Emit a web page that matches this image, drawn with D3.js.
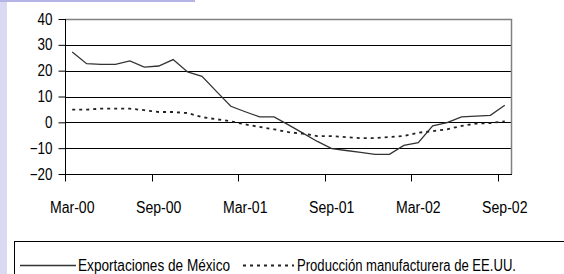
<!DOCTYPE html>
<html lang="es">
<head>
<meta charset="UTF-8">
<title>Exportaciones de México vs producción manufacturera de EE.UU.</title>
<script src="https://d3js.org/d3.v7.min.js"></script>
<style>
    body { margin: 0; background: #fff; }
    svg { display: block; font-family: "Liberation Sans", Arial, sans-serif; }
    .tick-label { font-size: 16px; fill: #000; }
    .legend-text { font-size: 16px; fill: #000; }
</style>
</head>
<body>
<svg width="564" height="274"></svg>
<script>
// months shown on the category axis (Mar-00 .. Sep-02)
const months = ["Mar-00","Apr-00","May-00","Jun-00","Jul-00","Aug-00","Sep-00","Oct-00","Nov-00","Dec-00",
    "Jan-01","Feb-01","Mar-01","Apr-01","May-01","Jun-01","Jul-01","Aug-01","Sep-01","Oct-01","Nov-01","Dec-01",
    "Jan-02","Feb-02","Mar-02","Apr-02","May-02","Jun-02","Jul-02","Aug-02","Sep-02"];
const tickMonths = ["Mar-00","Sep-00","Mar-01","Sep-01","Mar-02","Sep-02"];
const yTicks = [-20, -10, 0, 10, 20, 30, 40];

// annual % change
const exportsMexico = [27.2, 22.7, 22.4, 22.4, 23.8, 21.4, 21.8, 24.3, 19.5, 17.8, 12.0, 6.2, 4.1, 2.1, 2.1, -1.0,
    -4.2, -7.4, -10.2, -10.9, -11.6, -12.4, -12.4, -8.9, -7.9, -1.4, -0.1, 2.1, 2.4, 2.7, 6.6];
const usManufacturing = [4.9, 4.9, 5.3, 5.3, 5.3, 4.7, 4.0, 4.0, 3.6, 2.0, 1.2, 0.4, -0.8, -1.8, -2.7, -3.8,
    -4.4, -5.3, -5.3, -5.7, -6.1, -6.1, -5.7, -5.3, -4.0, -3.4, -2.7, -1.4, -0.5, -0.3, 0.4];

const svg = d3.select("svg");

// the original uses a narrow font; squeeze the glyphs horizontally
function narrow(sel, k) {
    sel.each(function () {
        const w = this.getComputedTextLength();
        d3.select(this).attr("textLength", w * k).attr("lengthAdjust", "spacingAndGlyphs");
    });
}

// page decoration (left stripe and top bar)
svg.append("rect").attr("x", 0).attr("y", 0).attr("width", 7).attr("height", 274).attr("fill", "#d9d9f2");
svg.append("rect").attr("x", 0).attr("y", 0).attr("width", 195).attr("height", 2).attr("fill", "#b4b4e6");

const plot = { left: 65, right: 512, top: 19, bottom: 174 };

const x = d3.scaleBand().domain(months).range([plot.left, plot.right]).paddingInner(0).paddingOuter(0);
const y = d3.scaleLinear().domain([-20, 40]).range([plot.bottom, plot.top]);
const cx = m => x(m) + x.bandwidth() / 2;

// gridlines
svg.append("g").selectAll("line")
    .data(yTicks.filter(v => v > -20 && v < 40))
    .join("line")
    .attr("x1", plot.left).attr("x2", plot.right)
    .attr("y1", d => Math.round(y(d)) + 0.5).attr("y2", d => Math.round(y(d)) + 0.5)
    .attr("stroke", "#000").attr("stroke-width", 1);

// frame top + right
svg.append("path")
    .attr("d", `M${plot.left},${plot.top + 0.5}H${plot.right - 0.5}V${plot.bottom}`)
    .attr("fill", "none").attr("stroke", "#808080").attr("stroke-width", 1.5);

// y axis
const yAxis = svg.append("g").attr("transform", `translate(${plot.left + 0.5},0)`)
    .call(d3.axisLeft(y).tickValues(yTicks).tickSize(7).tickPadding(6).tickFormat(d3.format("d")));
yAxis.select(".domain").attr("stroke", "#000").attr("d", `M0,${plot.top}V${plot.bottom}`);
yAxis.selectAll(".tick line").attr("stroke", "#000");
yAxis.selectAll(".tick text").attr("class", "tick-label").attr("font-family", null).attr("font-size", null);
narrow(yAxis.selectAll(".tick text"), 0.84);

// x axis: ticks at category boundaries, labels centred on the category
const xAxis = svg.append("g").attr("transform", `translate(0,${plot.bottom + 0.5})`);
xAxis.append("line").attr("x1", plot.left).attr("x2", plot.right).attr("stroke", "#000");
xAxis.selectAll(".xt").data(tickMonths).join("line")
    .attr("x1", d => Math.round(x(d)) + 0.5).attr("x2", d => Math.round(x(d)) + 0.5)
    .attr("y1", 0).attr("y2", 7).attr("stroke", "#000");
const xLabels = xAxis.selectAll(".xl").data(tickMonths).join("text")
    .attr("class", "tick-label")
    .attr("x", d => cx(d)).attr("y", 33)
    .attr("text-anchor", "middle").attr("dy", "0.35em")
    .text(d => d);
narrow(xLabels, 0.88);

// series
const line = d3.line().x((d, i) => cx(months[i])).y(d => y(d));
svg.append("path").datum(exportsMexico)
    .attr("d", line).attr("fill", "none").attr("stroke", "#333").attr("stroke-width", 1.3);
svg.append("path").datum(usManufacturing)
    .attr("d", line).attr("fill", "none").attr("stroke", "#222").attr("stroke-width", 1.8)
    .attr("stroke-dasharray", "3,4");

// legend
const lg = svg.append("g");
lg.append("rect").attr("x", 14.5).attr("y", 241.5).attr("width", 600).attr("height", 60)
    .attr("fill", "#fff").attr("stroke", "#000").attr("stroke-width", 1);
const ly = 265.5;
lg.append("line").attr("x1", 20).attr("x2", 76).attr("y1", ly).attr("y2", ly)
    .attr("stroke", "#333").attr("stroke-width", 1.3);
const t1 = lg.append("text").attr("class", "legend-text").attr("x", 78).attr("y", ly).attr("dy", "0.35em")
    .text("Exportaciones de México");
lg.append("line").attr("x1", 243).attr("x2", 294).attr("y1", ly).attr("y2", ly)
    .attr("stroke", "#222").attr("stroke-width", 1.8).attr("stroke-dasharray", "3,4");
const t2 = lg.append("text").attr("class", "legend-text").attr("x", 297).attr("y", ly).attr("dy", "0.35em")
    .text("Producción manufacturera de EE.UU.");
t1.attr("textLength", 152).attr("lengthAdjust", "spacingAndGlyphs");
t2.attr("textLength", 219).attr("lengthAdjust", "spacingAndGlyphs");
</script>
</body>
</html>
